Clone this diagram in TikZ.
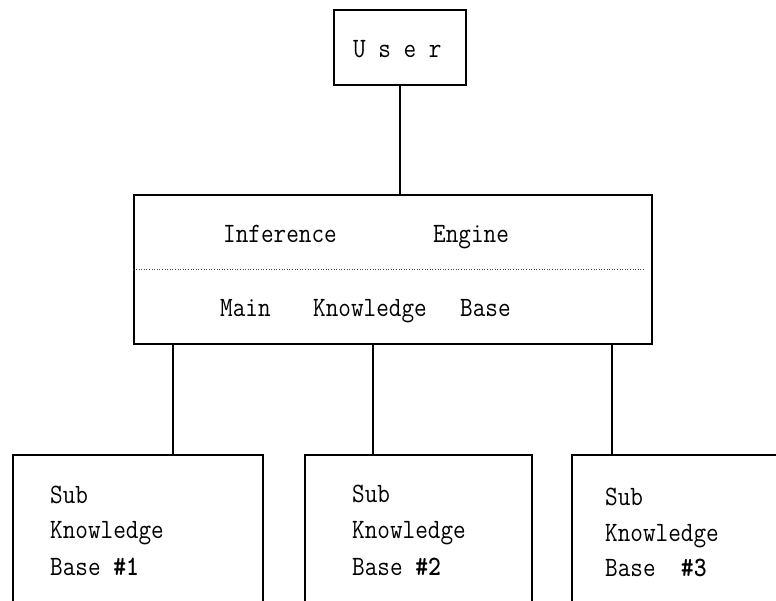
\documentclass[tikz,border=0pt]{standalone}
\usepackage{fontspec}
\usepackage{graphicx}
\newcommand{\narrowtxt}[1]{\scalebox{0.875}[1]{#1}}
\begin{document}
\begin{tikzpicture}[x=1pt,y=-1pt,
  boxst/.style={draw=black,line width=1.3pt,rectangle,inner sep=0pt,fill=none},
  lbl/.style={inner sep=0pt,anchor=base west,font=\ttfamily\fontsize{28}{32}\selectfont},
  conn/.style={draw=black,line width=1.3pt},
  divider/.style={draw=black!70,line width=0.7pt,dash pattern=on 1pt off 1.6pt}]
\useasboundingbox (0,0) rectangle (776,600);
\clip (0,0) rectangle (776,600);
\fill[white] (0,0) rectangle (776,600);
% boxes
\node[boxst,minimum width=132pt,minimum height=75pt] (user) at (400,47.5) {};
\node[boxst,minimum width=518pt,minimum height=149pt] (main) at (393,269.5) {};
\node[boxst,minimum width=250pt,minimum height=165pt] (sub1) at (138,537.5) {};
\node[boxst,minimum width=227pt,minimum height=165pt] (sub2) at (418.5,537.5) {};
\node[boxst,minimum width=228pt,minimum height=165pt] (sub3) at (686,537.5) {};
% texts
\node[lbl] (tu) at (353,57) {\narrowtxt{U s e r}};
\node[lbl] (ti) at (223,242) {\narrowtxt{Inference}};
\node[lbl] (te) at (433,242) {\narrowtxt{Engine}};
\node[lbl] (tm) at (220,316) {\narrowtxt{Main}};
\node[lbl] (tk) at (313,316) {\narrowtxt{Knowledge}};
\node[lbl] (tb) at (460,316) {\narrowtxt{Base}};
\node[lbl] (s1a) at (50,503) {\narrowtxt{Sub}};
\node[lbl] (s1b) at (50,538) {\narrowtxt{Knowledge}};
\node[lbl] (s1c) at (50,575) {\narrowtxt{Base \textbf{\#1}}};
\node[lbl] (s2a) at (352,502) {\narrowtxt{Sub}};
\node[lbl] (s2b) at (352,538) {\narrowtxt{Knowledge}};
\node[lbl] (s2c) at (352,575) {\narrowtxt{Base \textbf{\#2}}};
\node[lbl] (s3a) at (605,505) {\narrowtxt{Sub}};
\node[lbl] (s3b) at (605,541) {\narrowtxt{Knowledge}};
\node[lbl] (s3c) at (605,576) {\narrowtxt{Base\ \ \textbf{\#3}}};
% divider
\draw[divider] (main.west) -- ([xshift=-9pt]main.east);
% connectors
\coordinate (k1) at (173,0);
\coordinate (k2) at (373,0);
\coordinate (k3) at (612,0);
\draw[conn] (user.south) -- (user.south |- main.north);
\draw[conn] (main.south -| k1) -- (sub1.north -| k1);
\draw[conn] (main.south -| k2) -- (sub2.north -| k2);
\draw[conn] (main.south -| k3) -- (sub3.north -| k3);
\end{tikzpicture}
\end{document}
